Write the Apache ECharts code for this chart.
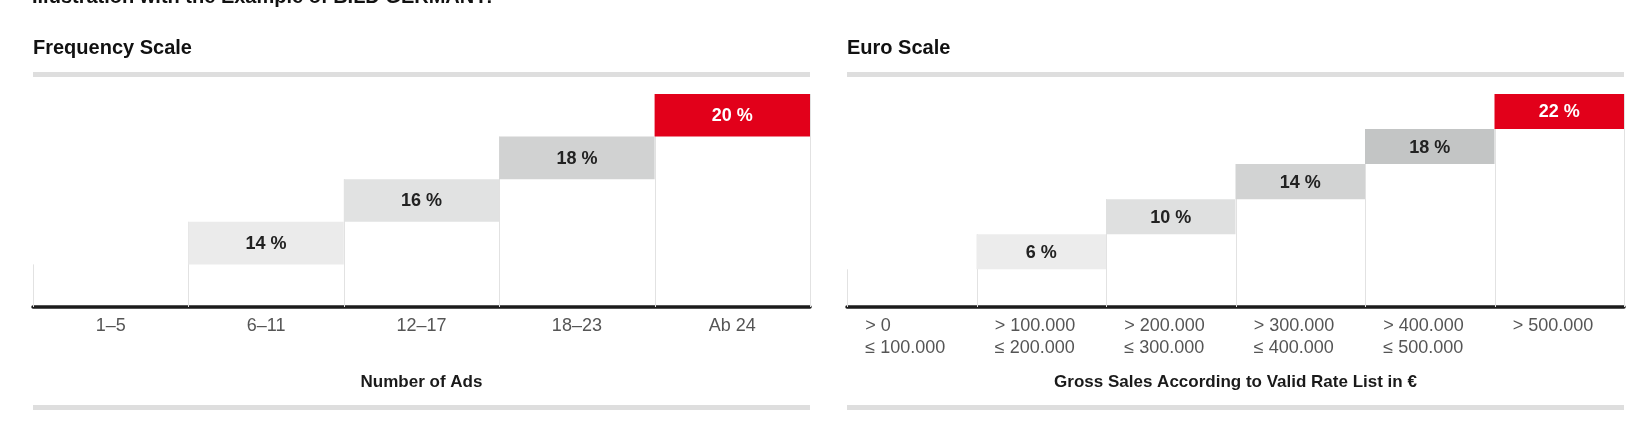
<!DOCTYPE html>
<html>
<head>
<meta charset="utf-8">
<title>Frequency Scale / Euro Scale</title>
<script src="https://cdn.jsdelivr.net/npm/echarts@6/dist/echarts.min.js"></script>
<style>
  html, body { margin: 0; padding: 0; background: #fff; }
  #chart { width: 1628px; height: 444px; }
</style>
</head>
<body>
<div id="chart"></div>
<script>
// Frequency scale: discount by number of ads
const freqCategories = ['1–5', '6–11', '12–17', '18–23', 'Ab 24']
const freqDiscount = [null, 14, 16, 18, 20]
const freqStep = 2

// Euro scale: discount by gross sales
const euroCategories = [
  '> 0\n≤ 100.000',
  '> 100.000\n≤ 200.000',
  '> 200.000\n≤ 300.000',
  '> 300.000\n≤ 400.000',
  '> 400.000\n≤ 500.000',
  '> 500.000'
]
const euroDiscount = [null, 6, 10, 14, 18, 22]
const euroStep = 4

const freqColors = ['#ffffff', '#ebebeb', '#e1e2e2', '#d1d2d2', '#e2001a']
const euroColors = ['#ffffff', '#ececec', '#dfe0e0', '#d2d3d3', '#c3c5c5', '#e2001a']

const font = '"Liberation Sans", Arial, Helvetica, sans-serif'

// one grey/red block per column, from (value - step) up to value
function blockSeries(idx, values, step, colors) {
  const last = values.length - 1
  return {
    type: 'custom',
    xAxisIndex: idx,
    yAxisIndex: idx,
    silent: true,
    z: 3,
    data: values.map((v, i) => [i, v]).filter(d => d[1] != null),
    renderItem: (params, api) => {
      const i = api.value(0)
      const v = api.value(1)
      const top = api.coord([i, v])
      const bottom = api.coord([i, v - step])
      const w = api.size([1, 0])[0]
      return {
        type: 'group',
        children: [
          {
            type: 'rect',
            shape: { x: top[0] - w / 2, y: top[1], width: w, height: bottom[1] - top[1] },
            style: { fill: colors[i] }
          },
          {
            type: 'text',
            x: top[0],
            y: (top[1] + bottom[1]) / 2 + 1,
            style: {
              text: v + ' %',
              fontFamily: font,
              fontSize: 18,
              fontWeight: 'bold',
              fill: i === last ? '#ffffff' : '#222222',
              align: 'center',
              verticalAlign: 'middle'
            }
          }
        ]
      }
    }
  }
}

// thin vertical lines on the column borders, up to the column's level
function separatorSeries(idx, values, step) {
  const last = values.length - 1
  const levels = values.map((v, i) => v != null ? v : values[i + 1] - step)
  return {
    type: 'custom',
    xAxisIndex: idx,
    yAxisIndex: idx,
    silent: true,
    z: 1,
    data: levels.map((v, i) => [i, v]),
    renderItem: (params, api) => {
      const i = api.value(0)
      const p = api.coord([i, api.value(1)])
      const w = api.size([1, 0])[0]
      const yBase = params.coordSys.y + params.coordSys.height
      const xs = [p[0] - w / 2]
      if (i === last) xs.push(p[0] + w / 2)
      return {
        type: 'group',
        children: xs.map(x => ({
          type: 'line',
          shape: { x1: Math.round(x) + 0.5, y1: p[1], x2: Math.round(x) + 0.5, y2: yBase },
          style: { stroke: '#e2e2e2', lineWidth: 1 }
        }))
      }
    }
  }
}

const axisNameStyle = { fontFamily: font, fontSize: 17, fontWeight: 'bold', color: '#1a1a1a' }

const chart = echarts.init(document.getElementById('chart'))
chart.setOption({
  animation: false,
  textStyle: { fontFamily: font },
  grid: [
    { left: 33, top: 94, width: 777, height: 213 },
    { left: 847, top: 94, width: 777, height: 213 }
  ],
  xAxis: [
    {
      type: 'category',
      gridIndex: 0,
      data: freqCategories,
      axisLine: { onZero: false, lineStyle: { color: '#1c1c1c', width: 3.5 } },
      axisTick: { length: 23, lineStyle: { color: '#e2e2e2' } },
      axisLabel: { interval: 0, fontSize: 18, color: '#555555', margin: 10 },
      splitLine: { show: false },
      name: 'Number of Ads',
      nameLocation: 'middle',
      nameGap: 67,
      nameTextStyle: axisNameStyle
    },
    {
      type: 'category',
      gridIndex: 1,
      data: euroCategories,
      axisLine: { onZero: false, lineStyle: { color: '#1c1c1c', width: 3.5 } },
      axisTick: { length: 45, lineStyle: { color: '#e2e2e2' } },
      axisLabel: {
        interval: 0,
        margin: 8,
        align: 'center',
        width: 111,
        padding: [0, 0, 0, 18],
        formatter: v => v.split('\n').map(s => '{t|' + s + '}').join('\n'),
        rich: {
          t: { align: 'left', fontFamily: font, fontSize: 18, color: '#555555', lineHeight: 22 }
        }
      },
      splitLine: { show: false },
      name: 'Gross Sales According to Valid Rate List in €',
      nameLocation: 'middle',
      nameGap: 67,
      nameTextStyle: axisNameStyle
    }
  ],
  yAxis: [
    { type: 'value', gridIndex: 0, min: 10, max: 20, show: false },
    { type: 'value', gridIndex: 1, min: -2.3, max: 22, show: false }
  ],
  series: [
    separatorSeries(0, freqDiscount, freqStep),
    blockSeries(0, freqDiscount, freqStep, freqColors),
    separatorSeries(1, euroDiscount, euroStep),
    blockSeries(1, euroDiscount, euroStep, euroColors)
  ],
  graphic: [
    {
      type: 'text', x: 32, y: 7,
      style: { text: 'Illustration with the Example of BILD GERMANY:', fontFamily: font, fontSize: 20, fontWeight: 'bold', fill: '#111111', verticalAlign: 'bottom' }
    },
    {
      type: 'text', x: 33, y: 38,
      style: { text: 'Frequency Scale', fontFamily: font, fontSize: 20, fontWeight: 'bold', fill: '#111111', verticalAlign: 'top' }
    },
    {
      type: 'text', x: 847, y: 38,
      style: { text: 'Euro Scale', fontFamily: font, fontSize: 20, fontWeight: 'bold', fill: '#111111', verticalAlign: 'top' }
    },
    { type: 'rect', shape: { x: 33, y: 72, width: 777, height: 5 }, style: { fill: '#dedede' } },
    { type: 'rect', shape: { x: 847, y: 72, width: 777, height: 5 }, style: { fill: '#dedede' } },
    { type: 'rect', shape: { x: 33, y: 405, width: 777, height: 5 }, style: { fill: '#dedede' } },
    { type: 'rect', shape: { x: 847, y: 405, width: 777, height: 5 }, style: { fill: '#dedede' } }
  ]
})
</script>
</body>
</html>
